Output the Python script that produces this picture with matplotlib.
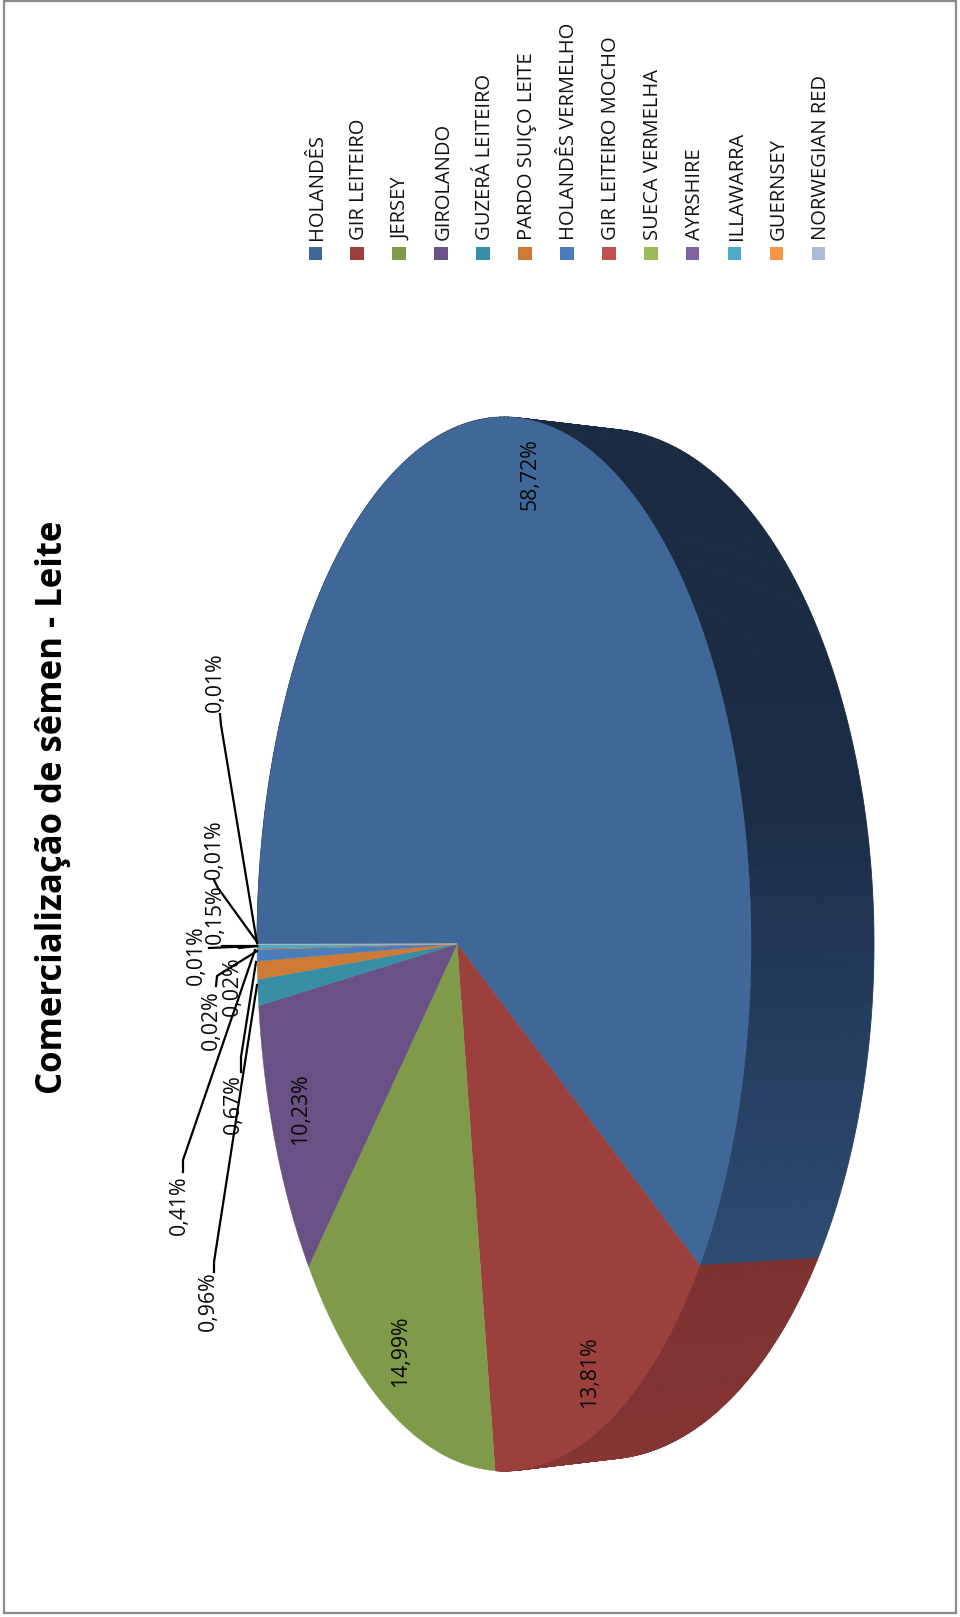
import numpy as np
import matplotlib
matplotlib.use("Agg")
import matplotlib.pyplot as plt
from matplotlib.colors import to_rgb
from matplotlib.patches import Rectangle, Polygon

plt.rcParams['font.family'] = ['Open Sans', 'DejaVu Sans']

title = "Comercialização de sêmen - Leite"
categories = ["HOLANDÊS", "GIR LEITEIRO", "JERSEY", "GIROLANDO", "GUZERÁ LEITEIRO",
              "PARDO SUIÇO LEITE", "HOLANDÊS VERMELHO", "GIR LEITEIRO MOCHO",
              "SUECA VERMELHA", "AYRSHIRE", "ILLAWARRA", "GUERNSEY", "NORWEGIAN RED"]
values = [58.72, 13.81, 14.99, 10.23, 0.96, 0.67, 0.41, 0.02, 0.02, 0.01, 0.15, 0.01, 0.01]
colors = ["#3f6797", "#9c403e", "#7f9a48", "#695085", "#378ea5", "#cd7a35", "#4a7ebb",
          "#c0504d", "#9bbb59", "#8064a2", "#4bacc6", "#f79646", "#aabad7"]

label_text = ["58,72%", "13,81%", "14,99%", "10,23%", "0,96%", "0,67%", "0,41%",
              "0,02%", "0,02%", "0,01%", "0,15%", "0,01%", "0,01%"]
label_x = [530, 590, 401, 301, 208, 233, 179, 232, 211, 196, 215, 214, 215]
label_y = [474, 1372, 1351, 1109, 1301, 1104, 1205, 986, 1020, 955, 914, 849, 682]
leaders = {
    4: [(214, 1272), (214, 1262), (257, 985)],
    5: [(241, 1072), (241, 1057), (256, 962)],
    6: [(183, 1172), (183, 1160), (255, 950)],
    7: [(239, 948), (257, 946)],
    8: [(216, 986), (217, 976), (257, 951)],
    9: [(222, 946), (257, 946)],
    10: [(209, 948), (257, 946)],
    11: [(214, 880), (218, 888), (257, 942)],
    12: [(220, 714), (221, 725), (257, 943)],
}

# Pie geometry in picture pixels: perspective disc laid on its side
top_c, top_a, top_b = (504, 944), 247, 527
bot_c, bot_a, bot_b = (604, 944), 270, 515
u0 = -0.19


def persp(theta):
    """Unit-disc rim angle (clockwise from left) -> projected unit-disc coordinates."""
    u = -np.cos(theta)
    v = -np.sin(theta)
    d = 1 + u0 * u
    return (u + u0) / d, v * np.sqrt(1 - u0 ** 2) / d


def rim(theta, c, a, b):
    pu, pv = persp(theta)
    return c[0] + a * pu, c[1] + b * pv


side_y = [430, 800, 1000, 1260]
side_c = ["#1a2a40", "#1b2c45", "#233b5b", "#2e4b73"]
red_y = [1260, 1460]
red_c = ["#7b3130", "#843534"]


def ramp(y, ys, cs):
    rgb = np.array([to_rgb(c) for c in cs])
    return tuple(np.interp(y, ys, rgb[:, i]) for i in range(3))


fig = plt.figure(figsize=(9.6, 16.17), dpi=100)
ax = fig.add_axes([0, 0, 1, 1])
ax.set_xlim(0, 960)
ax.set_ylim(1617, 0)
ax.axis("off")

ax.add_patch(Rectangle((4, 1), 952, 1612, fc="white", ec="#8c8c8c", lw=1.6))

edges = np.cumsum([0] + values) / sum(values) * 2 * np.pi

# side walls, only for the two wedges that show them
for i in (0, 1):
    ts = np.linspace(edges[i], edges[i + 1], 240)
    for t0, t1 in zip(ts[:-1], ts[1:]):
        x0, y0 = rim(np.array([t0, t1]), top_c, top_a, top_b)
        x1, y1 = rim(np.array([t0, t1]), bot_c, bot_a, bot_b)
        ym = y1.mean()
        col = ramp(ym, side_y, side_c) if i == 0 else ramp(ym, red_y, red_c)
        ax.add_patch(Polygon([(x0[0], y0[0]), (x0[1], y0[1]), (x1[1], y1[1]), (x1[0], y1[0])],
                             closed=True, fc=col, ec=col, lw=0.6))

# top surface
apex = (top_c[0] + top_a * u0, top_c[1])
for i, col in enumerate(colors):
    ts = np.linspace(edges[i], edges[i + 1], max(3, int(values[i] * 8)))
    xs, ys = rim(ts, top_c, top_a, top_b)
    ax.fill(np.r_[apex[0], xs], np.r_[apex[1], ys], fc=col, ec=col, lw=0.3, zorder=3)

# leaders
for idx, pts in leaders.items():
    p = np.array(pts)
    ax.plot(p[:, 0], p[:, 1], color="black", lw=1.6, zorder=4, solid_joinstyle="miter")

# data labels
for txt, x, y in zip(label_text, label_x, label_y):
    ax.text(x, y, txt, rotation=90, ha="center", va="center", fontsize=15.3,
            color="#0a0a0a", zorder=5)

# legend
for i, (name, col) in enumerate(zip(categories, colors)):
    bx = 308.5 + 41.95 * i
    ax.add_patch(Rectangle((bx, 247), 13.4, 13.4, fc=col, ec="none"))
    ax.text(bx + 14, 240.5, name, rotation=90, rotation_mode="anchor", ha="left",
            va="baseline", fontsize=14.5, color="#111111")

# title
ax.text(53, 807, title, rotation=90, ha="center", va="center", fontsize=25,
        fontweight="bold", color="black")

fig.savefig("out.png", dpi=100)
